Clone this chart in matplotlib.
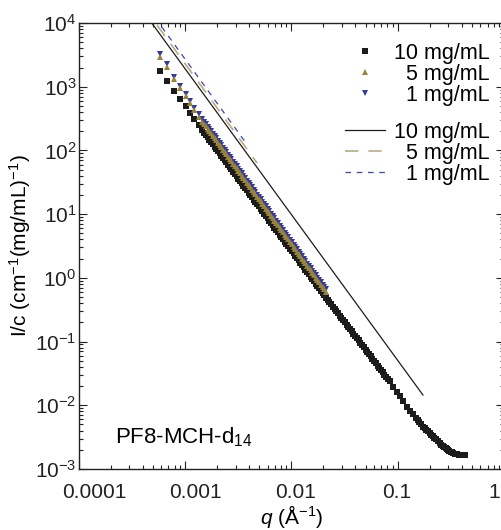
import matplotlib
matplotlib.use('Agg')
import matplotlib.pyplot as plt
import matplotlib.transforms as mtransforms
from matplotlib.lines import Line2D
from matplotlib.ticker import LogLocator, NullFormatter

plt.rcParams['font.family'] = ['Liberation Sans', 'DejaVu Sans']
plt.rcParams['mathtext.fontset'] = 'custom'
plt.rcParams['mathtext.rm'] = 'Liberation Sans'
plt.rcParams['mathtext.it'] = 'Liberation Sans:italic'
plt.rcParams['mathtext.default'] = 'regular'

# low-q configuration, same q grid for all three concentrations
q_low = [0.000583, 0.000684, 0.000791, 0.000906, 0.00102, 0.00112, 0.00123, 0.00135,
         0.00146, 0.00152, 0.00158, 0.00164, 0.0017, 0.00176, 0.00183, 0.0019, 0.00197, 0.00204,
         0.00212, 0.0022, 0.00228, 0.00236, 0.00245, 0.00254, 0.00264, 0.00274, 0.00284, 0.00295,
         0.00306, 0.00318, 0.0033, 0.00342, 0.00355, 0.00369, 0.00383, 0.00397, 0.00412, 0.00428,
         0.00444, 0.00461, 0.00478, 0.00496, 0.00515, 0.00535, 0.00555, 0.00576, 0.00598, 0.00621,
         0.00644, 0.00669, 0.00694, 0.0072, 0.00748, 0.00777, 0.00806, 0.00836, 0.00868, 0.00901,
         0.00935, 0.0097, 0.0101, 0.0105, 0.0109, 0.0113, 0.0117, 0.0121, 0.0126, 0.0131,
         0.0136, 0.0141, 0.0146, 0.0152, 0.0158, 0.0164, 0.017, 0.0176, 0.0183, 0.019,
         0.0197, 0.0204, 0.0212]

i10_low = [1783, 1242, 865, 649, 498, 391, 308, 251,
           209, 191, 174, 160, 148, 136, 125, 115, 106, 97.6,
           89.8, 82.7, 76.2, 70.2, 64.7, 59.5, 54.7, 50.4, 46.4, 42.6,
           39.2, 36.0, 33.0, 30.4, 28.0, 25.7, 23.6, 21.7, 20.0, 18.4,
           16.9, 15.5, 14.3, 13.2, 12.1, 11.1, 10.2, 9.38, 8.62, 7.93,
           7.29, 6.70, 6.15, 5.66, 5.20, 4.78, 4.39, 4.04, 3.71, 3.41,
           3.14, 2.88, 2.64, 2.42, 2.22, 2.05, 1.89, 1.74, 1.60, 1.47,
           1.35, 1.25, 1.15, 1.05, 0.959, 0.883, 0.813, 0.748, 0.688, 0.633,
           0.582, 0.536, 0.493]

i5_low = [2958, 2061, 1306, 944, 714, 548, 431, 338,
          282, 260, 239, 220, 202, 185, 170, 156, 144, 133,
          122, 112, 103, 94.7, 87.1, 79.9, 73.3, 67.4, 62.0, 56.9,
          52.2, 47.9, 43.9, 40.4, 37.1, 34.0, 31.2, 28.7, 26.4, 24.2,
          22.2, 20.4, 18.7, 17.2, 15.8, 14.5, 13.3, 12.2, 11.2, 10.3,
          9.43, 8.65, 7.94, 7.29, 6.69, 6.14, 5.63, 5.17, 4.75, 4.36,
          4.00, 3.66, 3.35, 3.07, 2.81, 2.59, 2.39, 2.19, 2.01, 1.84,
          1.69, 1.56, 1.44, 1.31, 1.20, 1.10, 1.01, 0.929, 0.854, 0.785,
          0.721, 0.663, 0.609]

i1_low = [3230, 2250, 1420, 1030, 780, 598, 468, 368,
          306, 281, 258, 237, 218, 200, 184, 169, 155, 143,
          131, 121, 111, 102, 93.8, 86.1, 79.0, 72.6, 66.8, 61.3,
          56.3, 51.6, 47.3, 43.5, 40.0, 36.7, 33.6, 30.9, 28.5, 26.2,
          24.0, 22.0, 20.2, 18.5, 17.0, 15.6, 14.3, 13.2, 12.1, 11.1,
          10.2, 9.36, 8.58, 7.88, 7.23, 6.63, 6.08, 5.58, 5.13, 4.71,
          4.32, 3.95, 3.62, 3.32, 3.04, 2.80, 2.58, 2.37, 2.17, 1.99,
          1.83, 1.68, 1.55, 1.42, 1.30, 1.19, 1.09, 1.00, 0.923, 0.848,
          0.779, 0.716, 0.658]

# high-q configuration, 10 mg/mL only
q_high = [0.0205, 0.0212, 0.022, 0.0228, 0.0237, 0.0246, 0.0255, 0.0265, 0.0275, 0.0285,
          0.0296, 0.0307, 0.0319, 0.0331, 0.0344, 0.0357, 0.037, 0.0384, 0.0399, 0.0414,
          0.043, 0.0446, 0.0463, 0.0481, 0.0499, 0.0518, 0.0537, 0.0558, 0.0579, 0.0601,
          0.0624, 0.0648, 0.0672, 0.0698, 0.0724, 0.0751, 0.078, 0.081, 0.084,
          0.0912, 0.0977, 0.105, 0.112, 0.122, 0.130, 0.140, 0.150,
          0.155, 0.160, 0.167, 0.174, 0.180, 0.186, 0.193, 0.200, 0.207, 0.214,
          0.221, 0.229, 0.239, 0.250, 0.258, 0.266, 0.274, 0.282, 0.290, 0.299,
          0.307, 0.316, 0.324, 0.333, 0.344, 0.355, 0.365, 0.376, 0.387, 0.398,
          0.414, 0.430]
i10_high = [0.529, 0.49, 0.453, 0.418, 0.385, 0.355, 0.327, 0.301, 0.277, 0.256,
            0.236, 0.217, 0.200, 0.184, 0.169, 0.156, 0.144, 0.133, 0.122, 0.113,
            0.104, 0.0957, 0.0881, 0.0811, 0.0747, 0.0689, 0.0636, 0.0586, 0.0539, 0.0496,
            0.0457, 0.0421, 0.0388, 0.0358, 0.0330, 0.0304, 0.0280, 0.0258, 0.0237,
            0.0195, 0.0164, 0.0138, 0.0116, 0.00948, 0.00826, 0.00719, 0.00627,
            0.00585, 0.00546, 0.00501, 0.00460, 0.00435, 0.00412, 0.00389, 0.00367, 0.00346, 0.00327,
            0.00309, 0.00292, 0.00271, 0.00252, 0.00242, 0.00233, 0.00225, 0.00217, 0.00209, 0.00202,
            0.00195, 0.00188, 0.00182, 0.00176, 0.00173, 0.00171, 0.00169, 0.00168, 0.00167, 0.00166,
            0.00165, 0.00165]

# power-law fit lines (end points)
fit10_q = [4.88e-4, 0.173]
fit10_i = [1.0e4, 0.0145]
fit5_q = [5.47e-4, 4.77e-3]
fit5_i = [9300, 63.4]
fit1_q = [6.05e-4, 3.84e-3]
fit1_i = [8700, 124]

labels = ['10 mg/mL', '\u20075 mg/mL', '\u20071 mg/mL']
c_black = '#1c1c1c'
c_olive = '#978339'
c_navy = '#34399a'
c_tan = '#b9aa80'
c_blue = '#3a46b4'

fig = plt.figure(figsize=(5.01, 5.30), dpi=100)
ax = fig.add_axes([0.1567, 0.1151, 0.8493, 0.8415])
ax.set_xscale('log')
ax.set_yscale('log')

ax.plot(q_low + q_high, i10_low + i10_high, 's', color=c_black, ms=4.2, mew=0)
ax.plot(q_low, i1_low, 'v', color=c_navy, ms=4.6, mew=0)
ax.plot(q_low, i5_low, '^', color=c_olive, ms=4.6, mew=0)

ax.plot(fit10_q, fit10_i, '-', color=c_black, lw=0.9)
ax.plot(fit5_q, fit5_i, '-', color=c_tan, lw=1.2, dashes=(8, 6))
ax.plot(fit1_q, fit1_i, '-', color=c_blue, lw=0.9, dashes=(4.5, 4.5))

ax.set_xlim(1e-4, 1)
ax.set_ylim(1e-3, 1e4)

ax.set_xticks([1e-4, 1e-3, 1e-2, 1e-1, 1], labels=['0.0001', '0.001', '0.01', '0.1', '1'])
ax.set_yticks([1e-3, 1e-2, 1e-1, 1, 10, 100, 1e3, 1e4])
ax.xaxis.set_minor_locator(LogLocator(base=10, subs=[2, 3, 4, 5, 6, 7, 8, 9], numticks=20))
ax.yaxis.set_minor_locator(LogLocator(base=10, subs=[2, 3, 4, 5, 6, 7, 8, 9], numticks=20))
ax.xaxis.set_minor_formatter(NullFormatter())
ax.yaxis.set_minor_formatter(NullFormatter())

ax.tick_params(which='both', direction='in', top=True, right=True, width=0.8,
               labelsize=15, colors='#222222')
ax.tick_params(which='major', length=5.5)
ax.tick_params(which='minor', length=3)
ax.tick_params(axis='x', pad=10)
ax.tick_params(axis='y', pad=1.5)
for s in ax.spines.values():
    s.set_linewidth(1.0)
    s.set_color('#222222')

# x tick labels sit left-aligned, a bit left of the tick
shift = mtransforms.ScaledTranslation(-16 / 100, 0, fig.dpi_scale_trans)
for lab in ax.get_xticklabels():
    lab.set_horizontalalignment('left')
    lab.set_transform(lab.get_transform() + shift)

ax.set_xlabel('$\\mathit{q}$ (Å$^{-1}$)', fontsize=15)
ax.xaxis.set_label_coords(0.5, -0.076)
ax.set_ylabel('I/c (cm$^{-1}$(mg/mL)$^{-1}$)', fontsize=15)
ax.yaxis.set_label_coords(-0.108, 0.5)

ax.text(0.086, 0.058, 'PF8-MCH-d$_{14}$', transform=ax.transAxes, fontsize=16, va='baseline')

mk_handles = [Line2D([], [], ls='none', marker='s', color=c_black, ms=4.2, mew=0),
              Line2D([], [], ls='none', marker='^', color=c_olive, ms=4.6, mew=0),
              Line2D([], [], ls='none', marker='v', color=c_navy, ms=4.6, mew=0)]
ln_handles = [Line2D([], [], color=c_black, lw=0.9),
              Line2D([], [], color=c_tan, lw=1.2, dashes=(8, 6)),
              Line2D([], [], color=c_blue, lw=0.9, dashes=(4.5, 4.5))]

leg_kw = dict(loc='upper right', bbox_transform=fig.transFigure, frameon=False,
              borderpad=0, borderaxespad=0, handlelength=1.86, handletextpad=0.43,
              labelspacing=0, fontsize=15.5, numpoints=1)
leg1 = ax.legend(mk_handles, labels, bbox_to_anchor=(490 / 501, 1 - 43 / 530), **leg_kw)
ax.add_artist(leg1)
ax.legend(ln_handles, labels, bbox_to_anchor=(490 / 501, 1 - 122 / 530), **leg_kw)

fig.savefig('out.png', dpi=100)
